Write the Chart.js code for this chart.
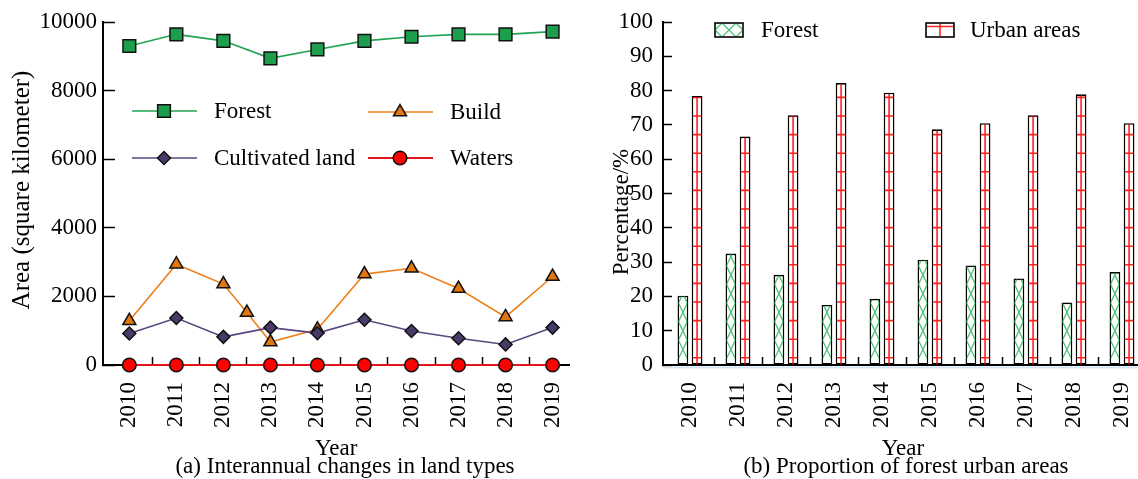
<!DOCTYPE html>
<html>
<head>
<meta charset="utf-8">
<script src="https://cdn.jsdelivr.net/npm/chart.js"></script>
<style>
  html, body { margin: 0; padding: 0; background: #fff; overflow: hidden; width: 1138px; height: 479px; }
  canvas { position: absolute; top: 0; }
</style>
</head>
<body>
<canvas id="landChart" width="580" height="479" style="left:0"></canvas>
<canvas id="shareChart" width="563" height="479" style="left:580px"></canvas>
<script>
// ---- data -------------------------------------------------------------
const years = [2010, 2011, 2012, 2013, 2014, 2015, 2016, 2017, 2018, 2019];
const forestArea = [9300, 9640, 9450, 8940, 9200, 9450, 9570, 9640, 9640, 9720];
const buildYears = [2010, 2011, 2012, 2012.5, 2013, 2014, 2015, 2016, 2017, 2018, 2019];
const buildArea = [1290, 2940, 2360, 1530, 670, 1040, 2650, 2820, 2230, 1400, 2580];
const cultivatedArea = [920, 1370, 820, 1090, 930, 1320, 990, 780, 600, 1090];
const watersArea = [0, 0, 0, 0, 0, 0, 0, 0, 0, 0];
const forestShare = [20.2, 32.5, 26.3, 17.5, 19.3, 30.7, 29.0, 25.2, 18.2, 27.1];
const urbanShare = [78.4, 66.6, 72.8, 82.2, 79.4, 68.7, 70.5, 72.8, 78.9, 70.5];
const areaTicks = [0, 2000, 4000, 6000, 8000, 10000];
const shareTicks = [0, 10, 20, 30, 40, 50, 60, 70, 80, 90, 100];

// ---- shared helpers ---------------------------------------------------
const SERIF = 'Liberation Serif';
Chart.defaults.font.family = SERIF;
Chart.defaults.font.size = 23;
Chart.defaults.color = '#000';

const isInt = v => Math.abs(v - Math.round(v)) < 1e-6;
const points = (xs, ys) => xs.map((x, i) => ({ x, y: ys[i] }));

// labels on whole steps, short tick marks halfway between them
function stepTicks(first, last) {
  const t = [];
  for (let v = first; v <= last; v++) {
    t.push({ value: v });
    if (v < last) t.push({ value: v + 0.5 });
  }
  return t;
}

function bottomAxis(min, max, first, last, label) {
  return {
    type: 'linear', min, max, offset: false,
    afterBuildTicks: s => { s.ticks = stepTicks(first, last); },
    afterFit: s => { s.height = 114; s.paddingLeft = 0; s.paddingRight = 0; },
    border: { display: true, color: '#000', width: 2 },
    grid: {
      offset: false, drawOnChartArea: false, drawTicks: true, tickLength: -8, tickWidth: 1.5,
      tickColor: c => (c.tick && isInt(c.tick.value)) ? 'rgba(0,0,0,0)' : '#000'
    },
    ticks: { autoSkip: false, maxRotation: 90, minRotation: 90, padding: 25, callback: label },
    title: { display: true, text: 'Year', padding: { top: 0, bottom: 16 } }
  };
}

function leftAxis(min, max, values, width, tickLen, pad) {
  return {
    min, max,
    afterBuildTicks: s => { s.ticks = values.map(v => ({ value: v })); },
    afterFit: s => { s.width = width; s.paddingTop = 0; s.paddingBottom = 0; },
    border: { display: true, color: '#000', width: 2 },
    grid: { drawOnChartArea: false, drawTicks: true, tickLength: -tickLen, tickWidth: 1.5, tickColor: '#000' },
    ticks: { padding: pad, autoSkip: false, callback: v => String(v) }
  };
}

// free text: rotated axis captions and panel captions
const panelText = {
  id: 'panelText',
  afterDraw(chart, args, opts) {
    const ctx = chart.ctx;
    ctx.save();
    ctx.fillStyle = '#000';
    ctx.textAlign = 'center';
    ctx.textBaseline = 'middle';
    (opts.items || []).forEach(it => {
      ctx.save();
      ctx.font = (it.size || 23) + 'px "' + SERIF + '"';
      ctx.translate(it.x, it.y);
      if (it.rotate) ctx.rotate(-Math.PI / 2);
      ctx.fillText(it.text, 0, 0);
      ctx.restore();
    });
    ctx.restore();
  }
};

// ---- (a) line chart ---------------------------------------------------
const lineLegend = {
  id: 'lineLegend',
  afterDraw(chart, args, opts) {
    const ctx = chart.ctx;
    (opts.items || []).forEach(it => {
      const ds = chart.data.datasets.find(d => d.label === it.label);
      ctx.save();
      ctx.strokeStyle = ds.borderColor;
      ctx.lineWidth = ds.borderWidth;
      ctx.beginPath();
      ctx.moveTo(it.x, it.y);
      ctx.lineTo(it.x + 65, it.y);
      ctx.stroke();
      ctx.fillStyle = ds.pointBackgroundColor;
      ctx.strokeStyle = ds.pointBorderColor;
      ctx.lineWidth = ds.pointBorderWidth;
      Chart.helpers.drawPoint(ctx, {
        pointStyle: ds.pointStyle, rotation: 0,
        radius: ds.pointRadius, borderWidth: ds.pointBorderWidth
      }, it.x + 32, it.y);
      ctx.fillStyle = '#000';
      ctx.font = '23px "' + SERIF + '"';
      ctx.textAlign = 'left';
      ctx.textBaseline = 'middle';
      ctx.fillText(it.label, it.x + 82, it.y + 1);
      ctx.restore();
    });
  }
};

function series(label, xs, ys, line, fill, style, radius) {
  return {
    label, data: points(xs, ys),
    borderColor: line, borderWidth: 1.6, tension: 0, fill: false, clip: false,
    pointStyle: style, pointRadius: radius, pointHoverRadius: radius,
    pointBackgroundColor: fill, pointBorderColor: '#111', pointBorderWidth: 1.5
  };
}

new Chart(document.getElementById('landChart'), {
  type: 'line',
  data: {
    datasets: [
      series('Forest', years, forestArea, '#22a353', '#1d9e4c', 'rect', 9),
      series('Cultivated land', years, cultivatedArea, '#5a4680', '#4a3a6a', 'rectRot', 6.5),
      series('Build', buildYears, buildArea, '#ef7f1a', '#e3760f', 'triangle', 7.5),
      Object.assign(series('Waters', years, watersArea, '#e0161b', '#ff0000', 'circle', 6.8), { borderWidth: 2.2 })
    ]
  },
  options: {
    responsive: false, animation: false, devicePixelRatio: 1,
    layout: { padding: { top: 22, right: 0, bottom: 0, left: 0 } },
    scales: {
      x: bottomAxis(2009.44, 2019.36, 2010, 2019, v => isInt(v) ? String(Math.round(v)) : ''),
      y: leftAxis(0, 10000, areaTicks, 103, 12, 18)
    },
    plugins: {
      legend: { display: false },
      tooltip: { enabled: false },
      lineLegend: {
        items: [
          { label: 'Forest', x: 132, y: 111 },
          { label: 'Build', x: 368, y: 112 },
          { label: 'Cultivated land', x: 132, y: 158 },
          { label: 'Waters', x: 368, y: 158 }
        ]
      },
      panelText: {
        items: [
          { text: 'Area (square kilometer)', x: 22, y: 190, rotate: true, size: 25 },
          { text: '(a) Interannual changes in land types', x: 345, y: 467 }
        ]
      }
    }
  },
  plugins: [lineLegend, panelText]
});

// ---- (b) grouped bars -------------------------------------------------
const HATCH = 18.6;

function crossHatch(ctx, left, right, top, bottom, anchor) {
  ctx.strokeStyle = 'rgba(52, 190, 100, 0.9)';
  ctx.lineWidth = 1.3;
  for (let yk = anchor; yk > top - HATCH; yk -= HATCH) {
    ctx.beginPath();
    ctx.moveTo(left, yk + HATCH / 2); ctx.lineTo(right, yk - HATCH / 2);
    ctx.moveTo(left, yk - HATCH / 2); ctx.lineTo(right, yk + HATCH / 2);
    ctx.stroke();
  }
}

function gridHatch(ctx, left, right, top, bottom, anchor, cx) {
  ctx.strokeStyle = 'rgba(255, 10, 10, 0.9)';
  ctx.lineWidth = 1.6;
  ctx.beginPath();
  for (let yk = anchor; yk > top - 2; yk -= HATCH) {
    ctx.moveTo(left, yk); ctx.lineTo(right, yk);
  }
  ctx.moveTo(cx, top); ctx.lineTo(cx, bottom);
  ctx.stroke();
}

const barHatch = {
  id: 'barHatch',
  afterDatasetsDraw(chart, args, opts) {
    const ctx = chart.ctx;
    const bw = 0.9;
    chart.getSortedVisibleDatasetMetas().forEach(meta => {
      const kind = opts.kinds[meta.index];
      meta.data.forEach(bar => {
        const { x, y, base, width } = bar.getProps(['x', 'y', 'base', 'width'], true);
        const left = x - width / 2 + bw, right = x + width / 2 - bw, top = y + bw;
        ctx.save();
        ctx.beginPath();
        ctx.rect(left, top, right - left, base - top);
        ctx.clip();
        if (kind === 'cross') crossHatch(ctx, left, right, top, base, base - 15);
        else gridHatch(ctx, left, right, top, base, base - 6.7, x);
        ctx.restore();
      });
    });
  },
  afterDraw(chart) {
    // pale rule under the category axis
    const ctx = chart.ctx, a = chart.chartArea;
    ctx.save();
    ctx.strokeStyle = '#d6e3f0';
    ctx.lineWidth = 2;
    ctx.beginPath();
    ctx.moveTo(a.left, a.bottom + 2.5);
    ctx.lineTo(chart.width, a.bottom + 2.5);
    ctx.stroke();
    ctx.restore();
  }
};

const barLegend = {
  id: 'barLegend',
  afterDraw(chart, args, opts) {
    const ctx = chart.ctx;
    (opts.items || []).forEach(it => {
      const w = 28, h = 14;
      ctx.save();
      ctx.fillStyle = '#fff';
      ctx.fillRect(it.x, it.y, w, h);
      ctx.beginPath();
      ctx.rect(it.x + 1, it.y + 1, w - 2, h - 2);
      ctx.clip();
      const cx = it.x + w / 2;
      if (it.kind === 'cross') {
        ctx.strokeStyle = 'rgba(52, 190, 100, 0.9)';
        ctx.lineWidth = 1.3;
        ctx.beginPath();
        [-14, 0, 14].forEach(dx => {
          ctx.moveTo(cx + dx - 7, it.y); ctx.lineTo(cx + dx + 7, it.y + h);
          ctx.moveTo(cx + dx - 7, it.y + h); ctx.lineTo(cx + dx + 7, it.y);
        });
        ctx.stroke();
      } else {
        ctx.strokeStyle = 'rgba(255, 10, 10, 0.9)';
        ctx.lineWidth = 1.6;
        ctx.beginPath();
        ctx.moveTo(it.x, it.y + 3.5); ctx.lineTo(it.x + w, it.y + 3.5);
        ctx.moveTo(cx, it.y); ctx.lineTo(cx, it.y + h);
        ctx.stroke();
      }
      ctx.restore();
      ctx.save();
      ctx.strokeStyle = '#000';
      ctx.lineWidth = 1.6;
      ctx.strokeRect(it.x, it.y, w, h);
      ctx.fillStyle = '#000';
      ctx.font = '23px "' + SERIF + '"';
      ctx.textAlign = 'left';
      ctx.textBaseline = 'middle';
      ctx.fillText(it.label, it.tx, it.y + h / 2 + 1);
      ctx.restore();
    });
  }
};

const slots = years.map((y, i) => i);
// the half-step tick marks halve the sample spacing the bar sizing sees,
// so the category share is doubled here
const barStyle = {
  backgroundColor: '#fff', borderColor: '#000', borderWidth: 1.6, borderSkipped: false,
  categoryPercentage: 1.18, barPercentage: 0.76
};

new Chart(document.getElementById('shareChart'), {
  type: 'bar',
  data: {
    datasets: [
      Object.assign({ label: 'Forest', data: points(slots, forestShare) }, barStyle),
      Object.assign({ label: 'Urban areas', data: points(slots, urbanShare) }, barStyle)
    ]
  },
  options: {
    responsive: false, animation: false, devicePixelRatio: 1,
    layout: { padding: { top: 22, right: 0, bottom: 0, left: 0 } },
    scales: {
      x: bottomAxis(-0.5625, 9.4375, 0, 9, v => isInt(v) ? String(years[Math.round(v)]) : ''),
      y: leftAxis(0, 100, shareTicks, 83, 9, 19)
    },
    plugins: {
      legend: { display: false },
      tooltip: { enabled: false },
      barHatch: { kinds: ['cross', 'grid'] },
      barLegend: {
        items: [
          { label: 'Forest', kind: 'cross', x: 135, y: 23, tx: 181 },
          { label: 'Urban areas', kind: 'grid', x: 346, y: 23, tx: 390 }
        ]
      },
      panelText: {
        items: [
          { text: 'Percentage/%', x: 42, y: 212, rotate: true },
          { text: '(b) Proportion of forest urban areas', x: 326, y: 467 }
        ]
      }
    }
  },
  plugins: [barHatch, barLegend, panelText]
});
</script>
</body>
</html>
